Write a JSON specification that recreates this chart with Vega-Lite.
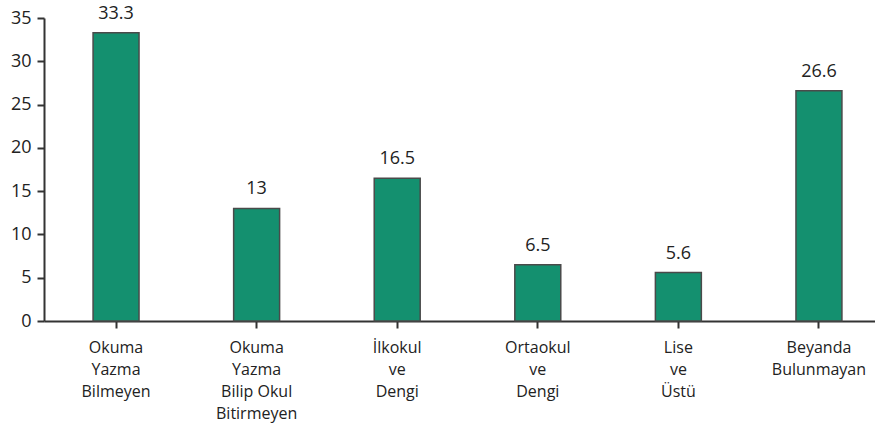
{
  "$schema": "https://vega.github.io/schema/vega-lite/v6.json",
  "width": 847,
  "height": 303,
  "autosize": {"type": "none"},
  "padding": {"left": 44, "top": 18, "right": 0, "bottom": 104},
  "background": "white",
  "config": {
    "view": {"stroke": null},
    "font": "Open Sans",
    "axis": {"grid": false, "domainColor": "#333333", "tickColor": "#333333", "domainWidth": 2, "tickWidth": 2, "labelColor": "#222222", "labelFontSize": 16, "title": null}
  },
  "data": {
    "values": [
      {"kategori": "Okuma Yazma Bilmeyen", "deger": 33.3},
      {"kategori": "Okuma Yazma Bilip Okul Bitirmeyen", "deger": 13},
      {"kategori": "İlkokul ve Dengi", "deger": 16.5},
      {"kategori": "Ortaokul ve Dengi", "deger": 6.5},
      {"kategori": "Lise ve Üstü", "deger": 5.6},
      {"kategori": "Beyanda Bulunmayan", "deger": 26.6}
    ]
  },
  "encoding": {
    "x": {
      "field": "kategori",
      "type": "nominal",
      "sort": null,
      "scale": {"paddingInner": 0.673, "paddingOuter": 0.349},
      "axis": {
        "labelAngle": 0,
        "labelFontSize": 16,
        "labelLineHeight": 22,
        "tickSize": 7,
        "labelPadding": 11,
        "labelExpr": "{'Okuma Yazma Bilmeyen':['Okuma','Yazma','Bilmeyen'],'Okuma Yazma Bilip Okul Bitirmeyen':['Okuma','Yazma','Bilip Okul','Bitirmeyen'],'İlkokul ve Dengi':['İlkokul','ve','Dengi'],'Ortaokul ve Dengi':['Ortaokul','ve','Dengi'],'Lise ve Üstü':['Lise','ve','Üstü'],'Beyanda Bulunmayan':['Beyanda','Bulunmayan']}[datum.value]"
      }
    },
    "y": {
      "field": "deger",
      "type": "quantitative",
      "scale": {"domain": [0, 35], "nice": false},
      "axis": {"values": [0, 5, 10, 15, 20, 25, 30, 35], "tickSize": 7, "labelPadding": 6, "labelFontSize": 18}
    }
  },
  "layer": [
    {"mark": {"type": "bar", "color": "#14906f", "stroke": "#4a4a4a", "strokeWidth": 1.5}},
    {
      "mark": {"type": "text", "baseline": "alphabetic", "dy": -14, "fontSize": 18, "color": "#222222"},
      "encoding": {"text": {"field": "deger", "type": "quantitative"}}
    }
  ]
}
